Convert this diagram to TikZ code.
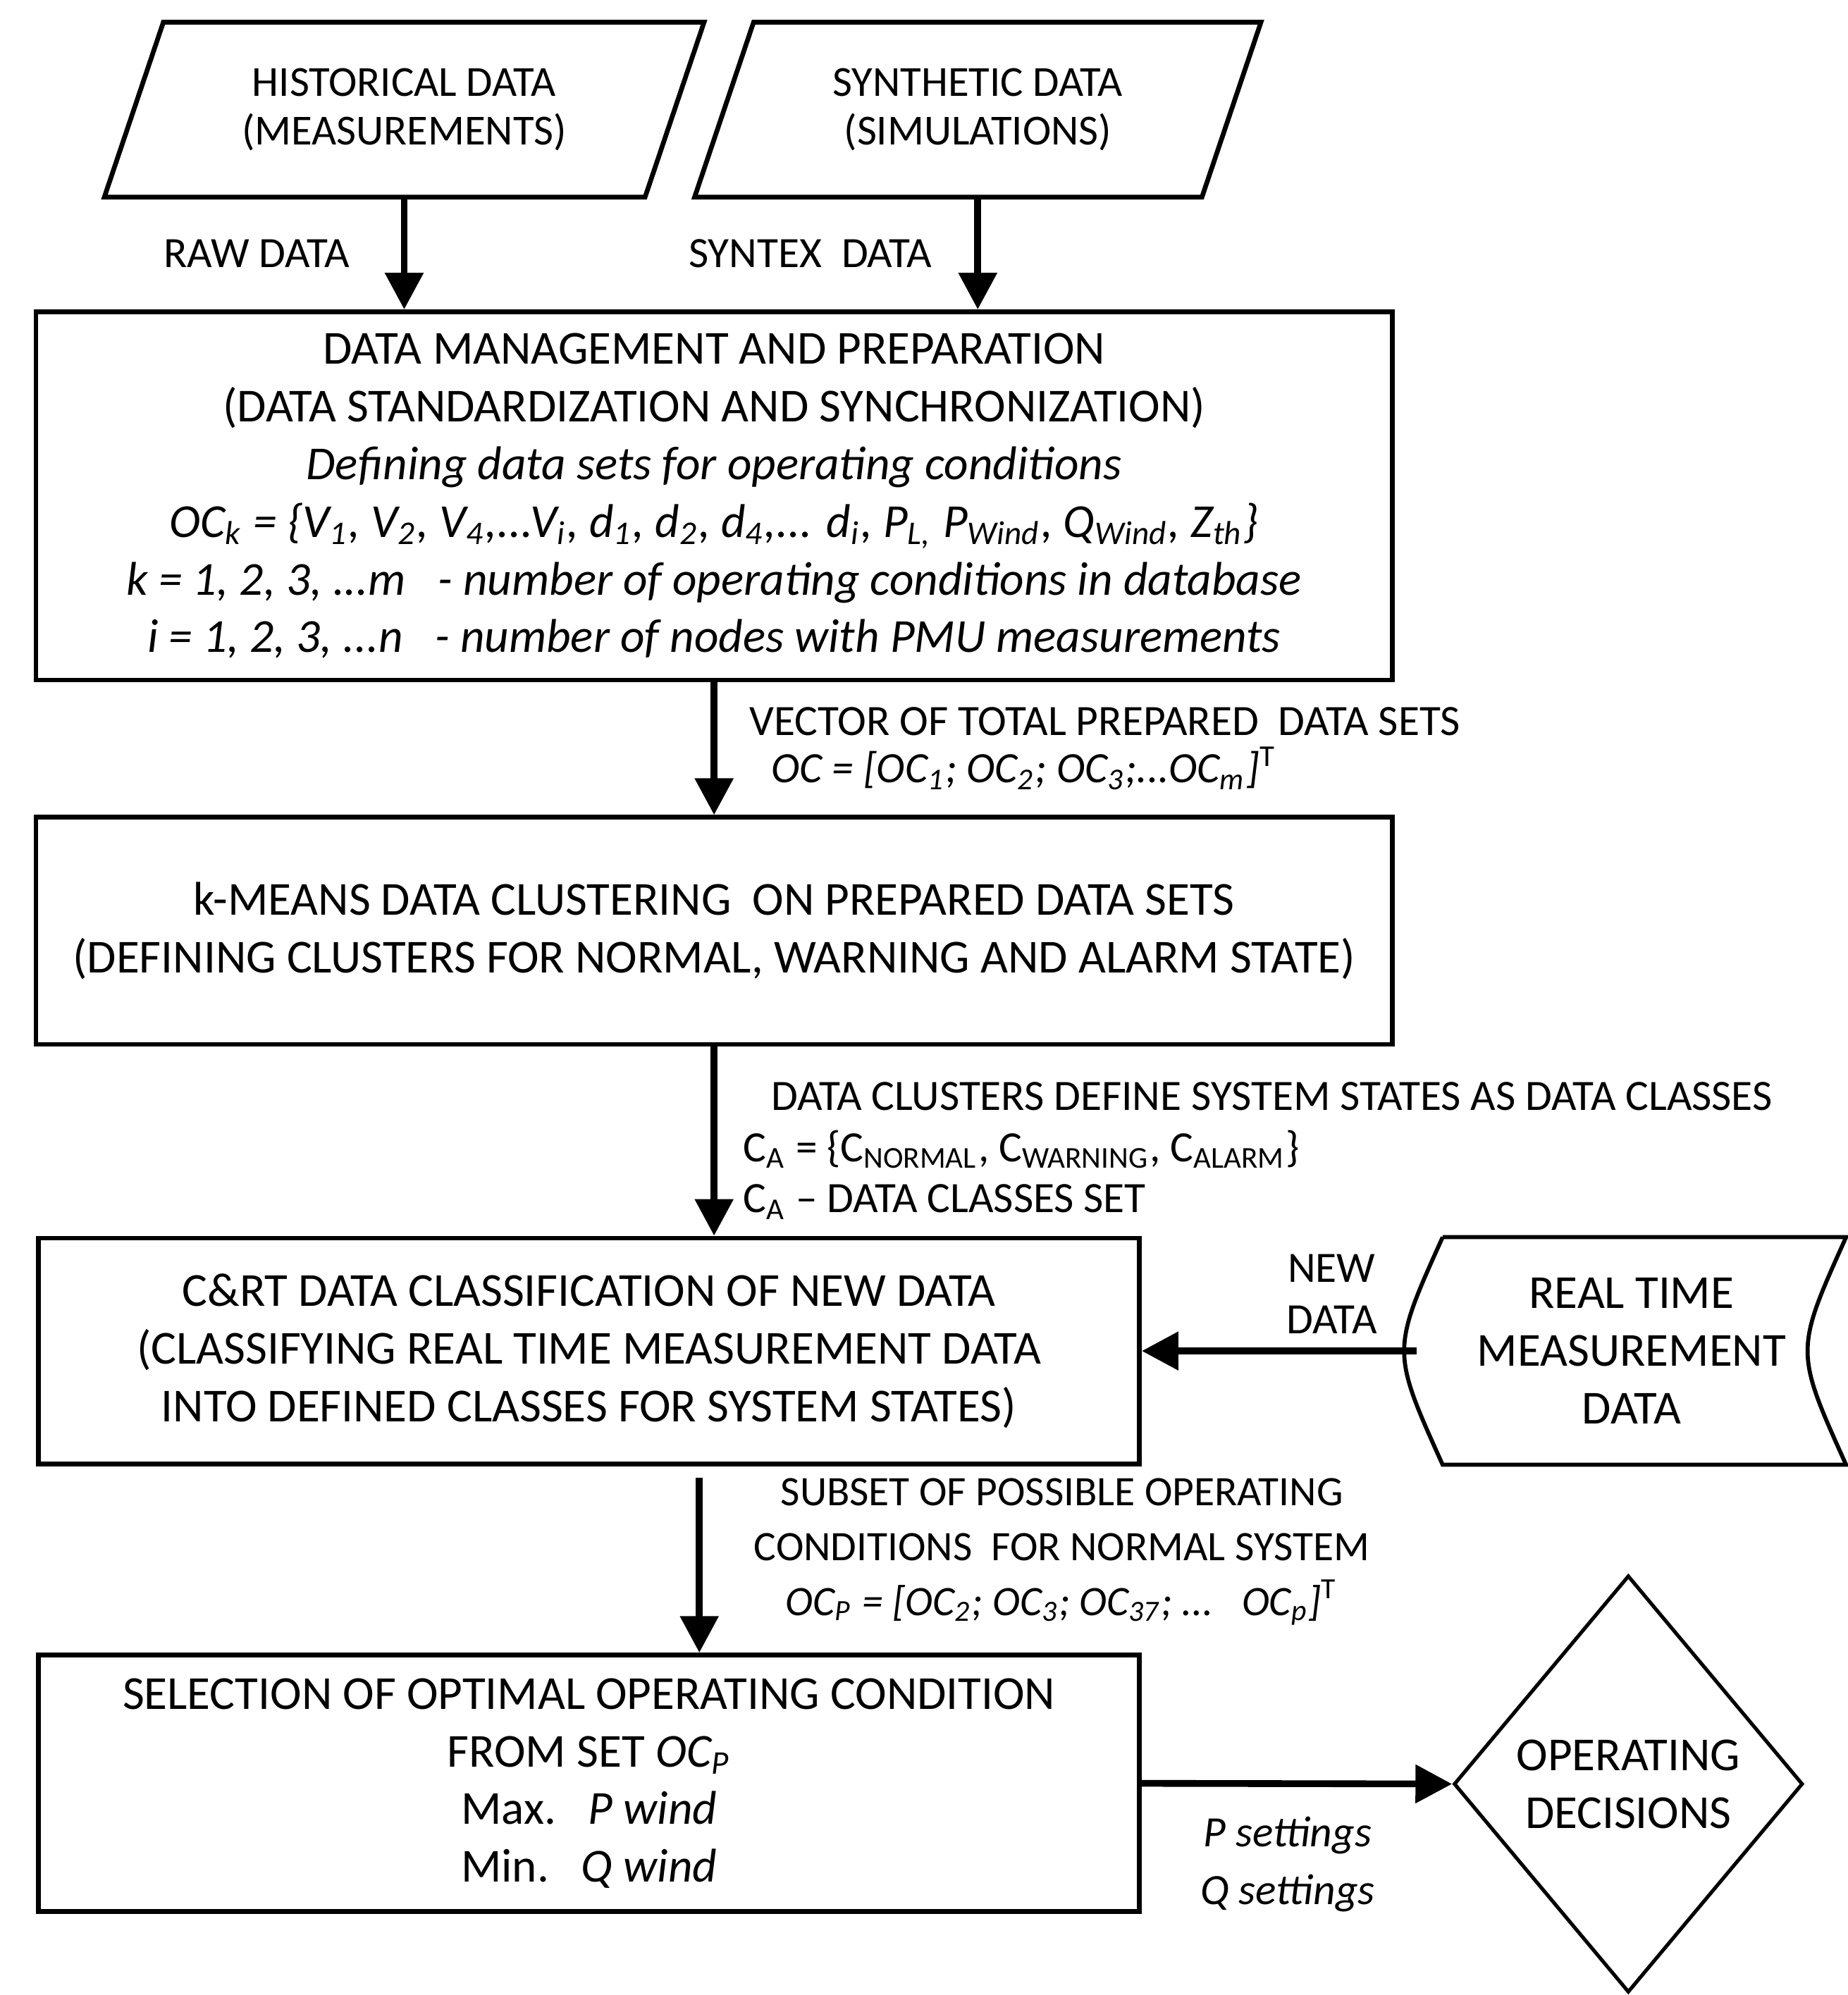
\documentclass[tikz,border=0pt]{standalone}
\usepackage{fontspec}
\setmainfont{Carlito}
\usetikzlibrary{shapes.geometric, arrows.meta, positioning}
\usetikzlibrary{backgrounds}
\tikzset{
  box/.style      = {draw, rectangle, line width=1.05pt, align=center, inner sep=0pt},
  data/.style     = {rectangle, minimum height=1.35cm, align=center, inner sep=0pt, font=\fontsize{9.5}{10.8}\selectfont},
  store/.style    = {rectangle, minimum width=3.33cm, minimum height=1.76cm, align=center, inner sep=0pt},
  decision/.style = {draw, diamond, aspect=0.84, line width=0.8pt, minimum width=2.72cm, minimum height=3.25cm, align=center, inner sep=0pt},
  myarrow/.style  = {-{Triangle[length=2.85mm,width=2.9mm]}, line width=1.5pt},
  lbl/.style      = {align=left, inner sep=0pt, font=\fontsize{9.6}{12.8}\selectfont},
}

\begin{document}
\begin{tikzpicture}[every node/.style={font=\fontsize{10.5}{12.8}\selectfont, text=black}]
    \useasboundingbox (0,0) rectangle (14.4,-15.55);

    \node (n00) [data, minimum width=4.66cm] at (3.15,-0.855) {HISTORICAL DATA\\(MEASUREMENTS)};
    \node (n01) [data, minimum width=4.40cm] at (7.62,-0.855) {SYNTHETIC DATA\\(SIMULATIONS)};
    \node (n10) [box, minimum width=10.57cm, minimum height=2.87cm] at (5.565,-3.865) {DATA MANAGEMENT AND PREPARATION\\
        (DATA STANDARDIZATION AND SYNCHRONIZATION)\\
        \textit{Defining data sets for operating conditions}\\
        \textit{OC\textsubscript{k} = \{V\textsubscript{1}, V\textsubscript{2}, V\textsubscript{4},...V\textsubscript{i}, d\textsubscript{1}, d\textsubscript{2}, d\textsubscript{4},... d\textsubscript{i}, P\textsubscript{L,} P\textsubscript{Wind}, Q\textsubscript{Wind}, Z\textsubscript{th}\}}\\
        \textit{k = 1, 2, 3, ...m\ \ \ - number of operating conditions in database}\\
        \textit{i = 1, 2, 3, ...n\ \ \ - number of nodes with PMU measurements}};
    \node (n20) [box, minimum width=10.57cm, minimum height=1.77cm] at (5.565,-7.255) {k-MEANS DATA CLUSTERING\ \ ON PREPARED DATA SETS\\
        (DEFINING CLUSTERS FOR NORMAL, WARNING AND ALARM STATE)};
    \node (n30) [box, minimum width=8.58cm, minimum height=1.76cm] at (4.59,-10.53) {C\&RT DATA CLASSIFICATION OF NEW DATA\\
        (CLASSIFYING REAL TIME MEASUREMENT DATA\\
        INTO DEFINED CLASSES FOR SYSTEM STATES)};
    \node (n31) [store] at (12.715,-10.53) {REAL TIME\\MEASUREMENT\\DATA};
    \node (n40) [box, minimum width=8.58cm, minimum height=2.00cm] at (4.59,-13.90) {SELECTION OF OPTIMAL OPERATING CONDITION\\
        FROM SET \textit{OC\textsubscript{P}}\\
        Max.\ \ \ \textit{P wind}\\
        Min.\ \ \ \textit{Q wind}};
    \node (n41) [decision] at (12.69,-13.905) {OPERATING\\DECISIONS};

    \begin{scope}[on background layer]
        % data inputs and stored data outlines
        \foreach \n in {n00,n01}
            \draw [line width=1.05pt] ([xshift=4.6mm]\n.north west) -- (\n.north east) -- ([xshift=-4.6mm]\n.south east) -- (\n.south west) -- cycle;
        \draw [line width=0.9pt] ([xshift=2mm]n31.north west) -- (n31.north east)
            .. controls ([xshift=-4mm]n31.east) .. (n31.south east) -- ([xshift=2mm]n31.south west)
            .. controls ([xshift=-2mm]n31.west) .. ([xshift=2mm]n31.north west);

        \draw [myarrow] (n00.south) -- (n00.south |- n10.north) node[lbl, midway, left=4mm] {RAW DATA};
        \draw [myarrow] (n01.south) -- (n01.south |- n10.north) node[lbl, midway, left=3.3mm] {SYNTEX\ \ DATA};
        \draw [myarrow] (n10) -- (n20) node[lbl, midway, right=2.5mm, font=\fontsize{9.6}{10.5}\selectfont] {VECTOR OF TOTAL PREPARED\ \ DATA SETS\\
            \hspace{1.7mm}\textit{OC = [OC\textsubscript{1}; OC\textsubscript{2}; OC\textsubscript{3};...OC\textsubscript{m}]}\textsuperscript{T}};
        \draw [myarrow] (n20.south) -- (n20.south |- n30.north) node[lbl, midway, right=2mm, yshift=-0.75mm, font=\fontsize{9.6}{11.3}\selectfont] {\hspace{2.2mm}DATA CLUSTERS DEFINE SYSTEM STATES AS DATA CLASSES\\
            C\textsubscript{A} = \{C\textsubscript{NORMAL}, C\textsubscript{WARNING}, C\textsubscript{ALARM}\}\\
            C\textsubscript{A} -- DATA CLASSES SET};
        \draw [myarrow] (n31.west) -- (n30.east) node[lbl, align=center, pos=0.31, above=1.1mm, font=\fontsize{9.6}{11.3}\selectfont] {NEW\\DATA};
        \draw [myarrow, shorten <=0.9mm] ([xshift=8.6mm]n30.south) -- ([xshift=8.6mm]n40.north) node[lbl, align=center, midway, right=4mm, yshift=0.6mm, font=\fontsize{9.3}{12.2}\selectfont] {SUBSET OF POSSIBLE OPERATING\\
            CONDITIONS\ \ FOR NORMAL SYSTEM\\
            \textit{OC\textsubscript{P} = [OC\textsubscript{2}; OC\textsubscript{3}; OC\textsubscript{37}; ...\ \ \ OC\textsubscript{p}]}\textsuperscript{T}};
        \draw [myarrow] (n40.east) -- (n41.west) node[lbl, align=center, pos=0.47, below=2.3mm] {\textit{P settings}\\\textit{Q settings}};
    \end{scope}
\end{tikzpicture}
\end{document}
